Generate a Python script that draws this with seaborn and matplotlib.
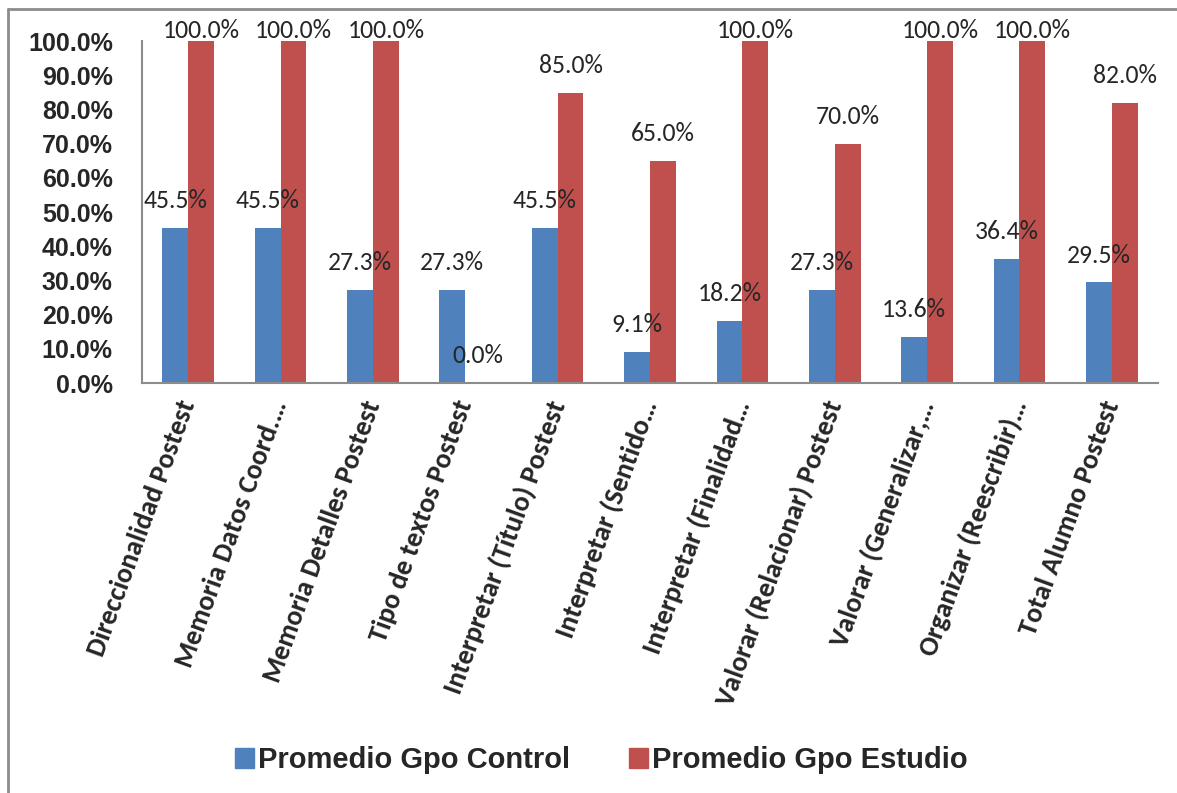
import pandas as pd
import matplotlib.pyplot as plt
from matplotlib import font_manager as fm
from matplotlib.lines import Line2D
import seaborn as sns

# Datos del gráfico
categorias = ['Direccionalidad Postest', 'Memoria Datos Coord.…', 'Memoria Detalles Postest',
              'Tipo de textos Postest', 'Interpretar (Título) Postest', 'Interpretar (Sentido…',
              'Interpretar (Finalidad…', 'Valorar (Relacionar) Postest', 'Valorar (Generalizar,…',
              'Organizar (Reescribir)…', 'Total Alumno Postest']
control = [45.5, 45.5, 27.3, 27.3, 45.5, 9.1, 18.2, 27.3, 13.6, 36.4, 29.5]
estudio = [100.0, 100.0, 100.0, 0.0, 85.0, 65.0, 100.0, 70.0, 100.0, 100.0, 82.0]
series = ['Promedio Gpo Control', 'Promedio Gpo Estudio']
colores = ['#4F81BD', '#C0504D']

df = pd.DataFrame({'Categoria': categorias * 2,
                   'Serie': [series[0]] * len(categorias) + [series[1]] * len(categorias),
                   'Valor': control + estudio})

# Fuentes (Carlito equivale a Calibri, Liberation Sans a Arial)
f_ytick = fm.FontProperties(family='Liberation Sans', weight='bold', style='normal', size=18)
f_xtick = fm.FontProperties(family='Carlito', weight='bold', style='normal', size=20)
f_valor = fm.FontProperties(family='Carlito', weight='normal', style='normal', size=18.5)
f_leyenda = fm.FontProperties(family='Liberation Sans', weight='bold', style='normal', size=21)

sns.set_style('white')

fig = plt.figure(figsize=(11.77, 7.93), dpi=100)
ax = fig.add_axes([0.1206, 0.517, 0.8633, 0.431])

sns.barplot(data=df, x='Categoria', y='Valor', hue='Serie', order=categorias,
            hue_order=series, palette=colores, width=0.56, saturation=1,
            edgecolor='none', ax=ax)

ax.set_ylim(0, 100)
ax.set_xlim(-0.5, len(categorias) - 0.5)
ax.set_yticks(range(0, 101, 10))
ax.set_yticklabels([f'{v:.1f}%' for v in range(0, 101, 10)], fontproperties=f_ytick)
ax.set_xticks(range(len(categorias)))
ax.set_xticklabels(categorias, rotation=70, ha='right', va='center', rotation_mode='anchor',
                   fontproperties=f_xtick)
ax.tick_params(axis='both', length=0)
ax.tick_params(axis='y', pad=21)
ax.tick_params(axis='x', pad=13)
ax.set_xlabel('')
ax.set_ylabel('')

for lado in ['top', 'right']:
    ax.spines[lado].set_visible(False)
for lado in ['left', 'bottom']:
    ax.spines[lado].set_color('#8c8c8c')
    ax.spines[lado].set_linewidth(1.5)

# Etiquetas de valores (las de 100% quedan más pegadas, como en el original)
for cont in ax.containers:
    for barra in cont:
        h = barra.get_height()
        desplaz = 8 if h >= 100 else 19.5
        ax.annotate(f'{h:.1f}%', (barra.get_x() + barra.get_width() / 2, h),
                    textcoords='offset points', xytext=(0, desplaz), ha='center', va='center',
                    fontproperties=f_valor, annotation_clip=False)

# Leyenda
ax.legend_.remove()
handles = [plt.Rectangle((0, 0), 1, 1, color=c) for c in colores]
fig.legend(handles, series, loc='center', bbox_to_anchor=(0.511, 1 - 760 / 793), ncol=2,
           frameon=False, prop=f_leyenda,
           handlelength=0.65, handleheight=0.7, handletextpad=0.15, columnspacing=2.0)

# Borde del gráfico
fig.add_artist(Line2D([8 / 1177, 8 / 1177], [0, 1 - 9 / 793], color='#8c8c8c', lw=2))
fig.add_artist(Line2D([8 / 1177, 1], [1 - 9 / 793, 1 - 9 / 793], color='#8c8c8c', lw=2))

fig.savefig('out.png', dpi=100, facecolor='white')
